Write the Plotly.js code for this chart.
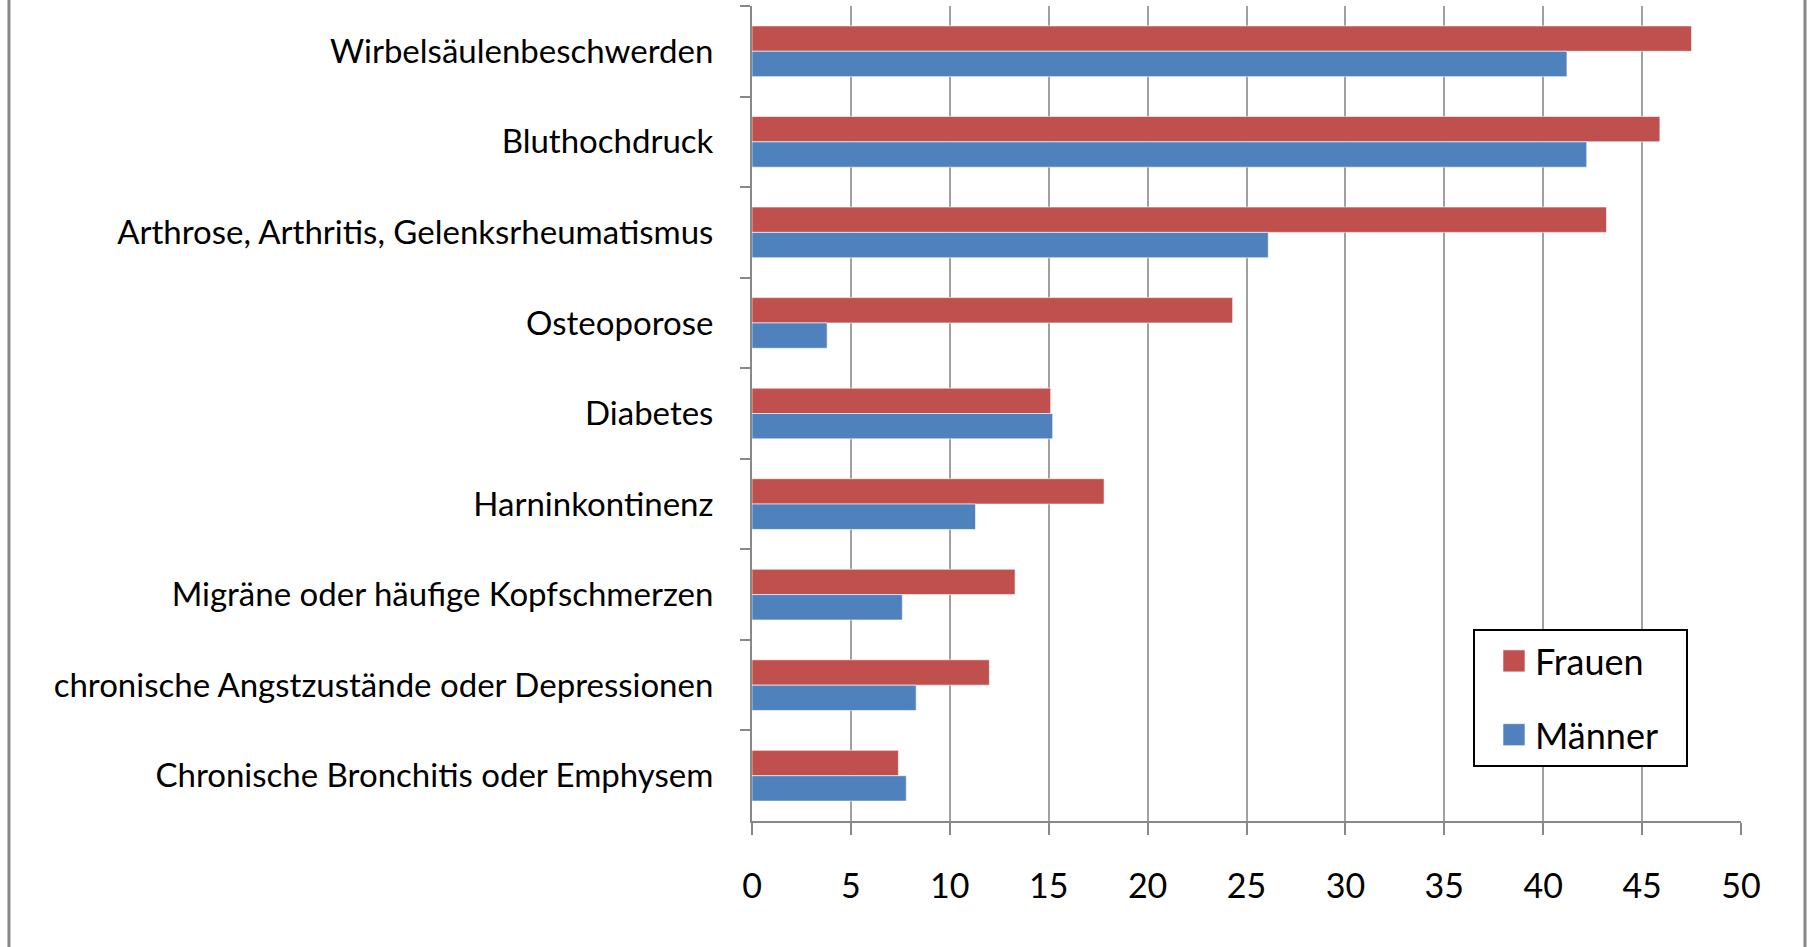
<!DOCTYPE html>
<html>
<head>
<meta charset="utf-8">
<script src="https://cdn.plot.ly/plotly-3.0.1.min.js"></script>
<style>
  body { margin: 0; background: #fff; }
  #chart { width: 1808px; height: 947px; }
</style>
</head>
<body>
<div id="chart"></div>
<script>
// Krankheiten, von oben nach unten
const categories = [
  'Wirbelsäulenbeschwerden',
  'Bluthochdruck',
  'Arthrose, Arthritis, Gelenksrheumatismus',
  'Osteoporose',
  'Diabetes',
  'Harninkontinenz',
  'Migräne oder häufige Kopfschmerzen',
  'chronische Angstzustände oder Depressionen',
  'Chronische Bronchitis oder Emphysem'
];
const frauen = [47.5, 45.9, 43.2, 24.3, 15.1, 17.8, 13.3, 12.0, 7.4];
const maenner = [41.2, 42.2, 26.1, 3.8, 15.2, 11.3, 7.6, 8.3, 7.8];
const xTicks = [0, 5, 10, 15, 20, 25, 30, 35, 40, 45, 50];

const trace1 = {
  y: categories,
  x: frauen,
  type: 'bar',
  orientation: 'h',
  name: 'Frauen',
  legendgroup: 'f',
  marker: { color: '#C0504D', line: { color: 'rgba(255,255,255,0.6)', width: 1 } },
  hoverinfo: 'x+name'
};

const trace2 = {
  y: categories,
  x: maenner,
  type: 'bar',
  orientation: 'h',
  name: 'Männer',
  legendgroup: 'm',
  marker: { color: '#4F81BD', line: { color: 'rgba(255,255,255,0.6)', width: 1 } },
  hoverinfo: 'x+name'
};

const layout = {
  width: 1808,
  height: 947,
  margin: { l: 752, r: 67, t: 6, b: 126 },
  paper_bgcolor: '#fff',
  plot_bgcolor: '#fff',
  barmode: 'group',
  bargap: 0.44,
  bargroupgap: 0,
  font: { family: 'Lato, "Open Sans", sans-serif', color: '#000' },
  xaxis: {
    range: [0, 50],
    tickvals: xTicks,
    ticktext: xTicks.map(String),
    showgrid: true,
    gridcolor: '#a0a0a0',
    gridwidth: 2,
    showline: true,
    linecolor: '#888',
    linewidth: 2,
    ticks: 'outside',
    ticklen: 12,
    tickwidth: 2,
    tickcolor: '#888',
    ticklabelstandoff: 22,
    tickfont: { size: 34, color: '#000' },
    zeroline: false,
    fixedrange: true
  },
  yaxis: {
    type: 'category',
    autorange: 'reversed',
    showgrid: false,
    showline: true,
    linecolor: '#888',
    linewidth: 2,
    ticks: 'outside',
    tickson: 'boundaries',
    ticklen: 10,
    tickwidth: 2,
    tickcolor: '#888',
    ticklabelstandoff: 30,
    tickfont: { size: 33, color: '#000' },
    fixedrange: true
  },
  legend: {
    x: 0.729,
    y: 0.2356,
    xanchor: 'left',
    yanchor: 'top',
    bgcolor: '#fff',
    bordercolor: '#000',
    borderwidth: 2,
    tracegroupgap: 24,
    itemwidth: 50,
    font: { size: 36, color: '#000' }
  },
  showlegend: true,
  shapes: [
    { type: 'line', xref: 'paper', yref: 'paper', x0: -0.7513, x1: -0.7513, y0: -0.16, y1: 1.01,
      line: { color: '#888', width: 3 } },
    { type: 'line', xref: 'paper', yref: 'paper', x0: 1.0647, x1: 1.0647, y0: -0.16, y1: 1.01,
      line: { color: '#888', width: 3 } }
  ]
};

Plotly.newPlot('chart', [trace1, trace2], layout, { displayModeBar: false, staticPlot: true }).then(() => {
  // groessere Legendensymbole wie im Original
  document.querySelectorAll('.legend .legendpoints path').forEach(p => {
    p.setAttribute('d', 'M20,11H-2V-11H20Z');
  });
  // Legendenrahmen etwas breiter
  const bg = document.querySelector('.legend rect.bg');
  if (bg) bg.setAttribute('width', parseFloat(bg.getAttribute('width')) + 22);
});
</script>
</body>
</html>
